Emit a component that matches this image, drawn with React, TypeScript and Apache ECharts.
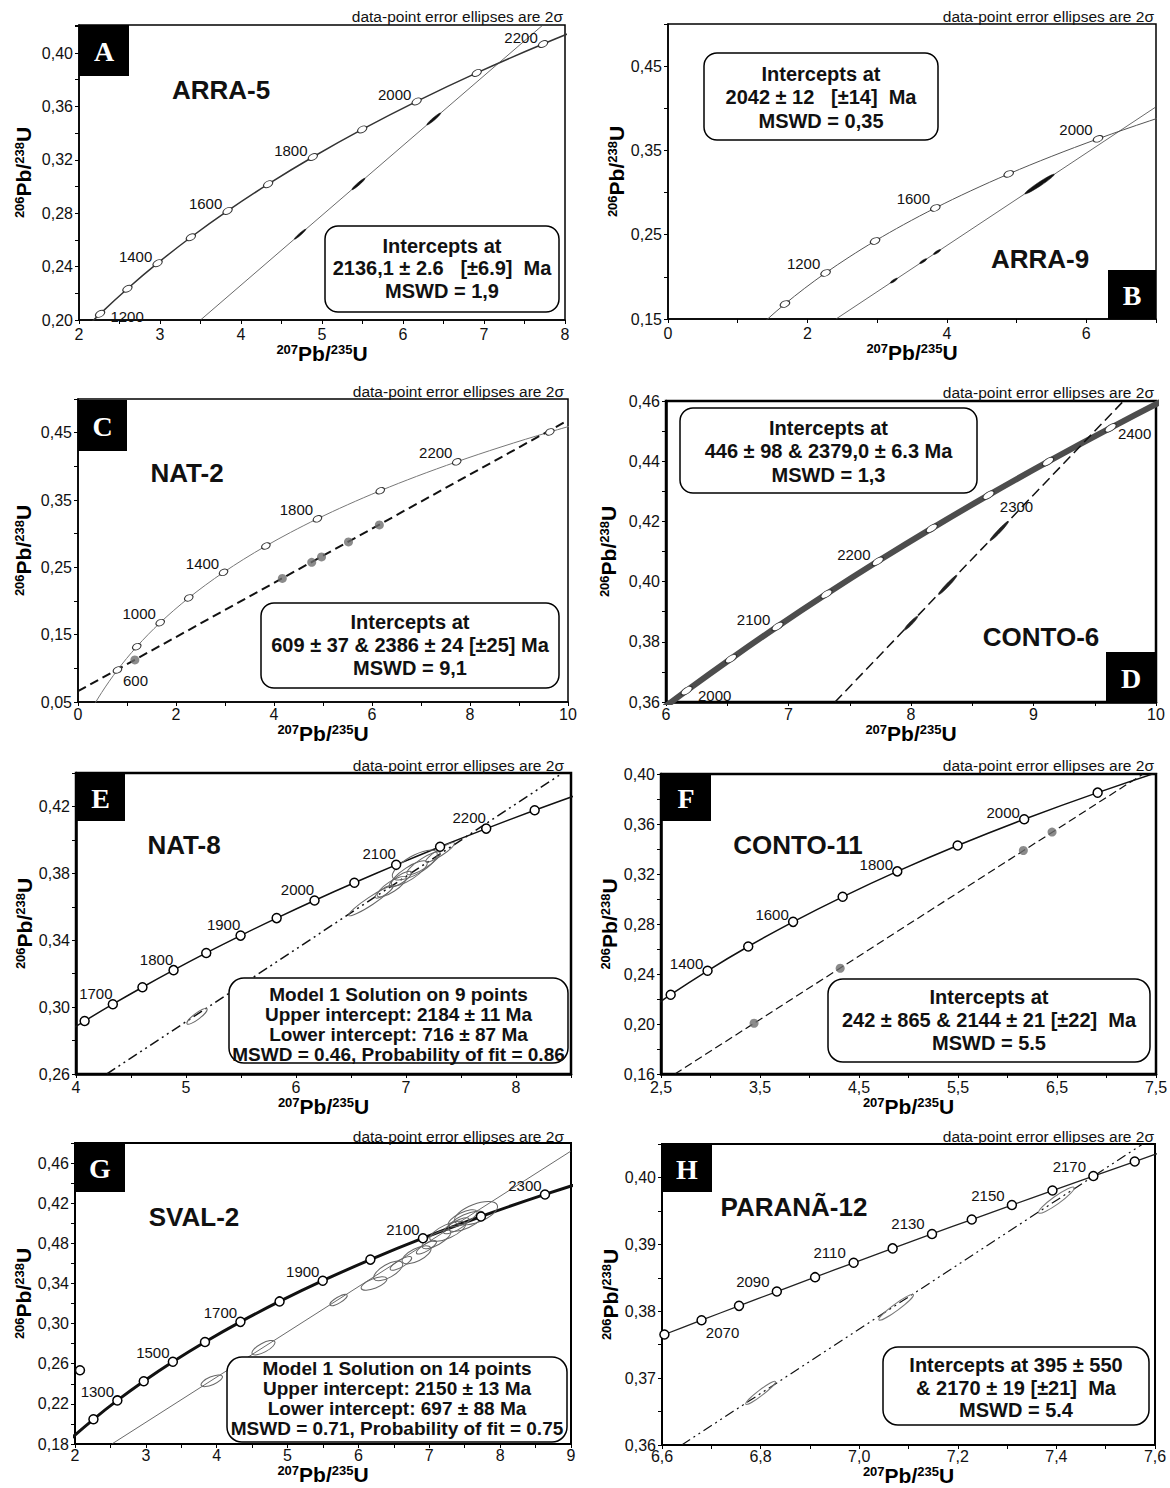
import React, { useEffect, useRef } from 'react';
import * as echarts from 'echarts';

// ---------- concordia reference points (age Ma, 207Pb/235U, 206Pb/238U) ----------
const concAge100 = [0, 100, 200, 300, 400, 500, 600, 700, 800, 900, 1000, 1100, 1200, 1300, 1400, 1500, 1600, 1700, 1800, 1900, 2000, 2100, 2200, 2300, 2400, 2500];
const concX100 = [0, 0.1035, 0.2177, 0.3437, 0.4828, 0.6363, 0.8056, 0.9925, 1.1987, 1.4263, 1.6774, 1.9545, 2.2603, 2.5977, 2.9701, 3.3810, 3.8344, 4.3348, 4.8869, 5.4962, 6.1685, 6.9105, 7.7291, 8.6326, 9.6295, 10.7297];
const concY100 = [0, 0.01563, 0.03151, 0.04764, 0.06402, 0.08065, 0.09754, 0.11470, 0.13213, 0.14983, 0.16780, 0.18606, 0.20460, 0.22344, 0.24256, 0.26199, 0.28172, 0.30175, 0.32210, 0.34277, 0.36377, 0.38509, 0.40674, 0.42873, 0.45107, 0.47375];
const concAge50 = [1650, 1750, 1850, 1950, 2050, 2150, 2250, 2350, 2450];
const concX50 = [4.0784, 4.6040, 5.1840, 5.8241, 6.5304, 7.3097, 8.1697, 9.1188, 10.1660];
const concY50 = [0.29170, 0.31189, 0.33240, 0.35323, 0.37438, 0.39587, 0.41769, 0.43986, 0.46237];
const concAge10 = [2050, 2060, 2070, 2080, 2090, 2100, 2110, 2120, 2130, 2140, 2150, 2160, 2170, 2180, 2190, 2200];
const concX10 = [6.5304, 6.6049, 6.6802, 6.7562, 6.8329, 6.9105, 6.9887, 7.0678, 7.1477, 7.2283, 7.3097, 7.3920, 7.4750, 7.5589, 7.6436, 7.7292];
const concY10 = [0.37438, 0.37652, 0.37866, 0.38080, 0.38294, 0.38509, 0.38724, 0.38939, 0.39155, 0.39371, 0.39587, 0.39804, 0.40021, 0.40238, 0.40456, 0.40674];

// ---------- A : ARRA-5 ----------
const aMarkerAges = [1200, 1300, 1400, 1500, 1600, 1700, 1800, 1900, 2000, 2100, 2200];
const aLabelAges = [1200, 1400, 1600, 1800, 2000, 2200];
const aDiscordia = [[3.5, 0.2], [7.75, 0.4222]];
const aEllipses = [[4.73, 0.2643, 0.07, 0.0037, 0.14], [5.45, 0.3019, 0.08, 0.0042, 0.14], [6.38, 0.3506, 0.085, 0.0044, 0.14]];
const aXTicks = [2, 3, 4, 5, 6, 7, 8];
const aXLabels = ['2', '3', '4', '5', '6', '7', '8'];
const aYTicks = [0.2, 0.24, 0.28, 0.32, 0.36, 0.4];
const aYLabels = ['0,20', '0,24', '0,28', '0,32', '0,36', '0,40'];
const aBoxText = ['Intercepts at', '2136,1 ± 2.6 \u00a0 [±6.9] \u00a0Ma', 'MSWD = 1,9'];

// ---------- B : ARRA-9 ----------
const bMarkerAges = [1000, 1200, 1400, 1600, 1800, 2000];
const bLabelAges = [1200, 1600, 2000];
const bDiscordia = [[2.41, 0.15], [7.0, 0.4017]];
const bEllipses = [[5.33, 0.3101, 0.21, 0.0115, 0.11], [3.86, 0.2295, 0.05, 0.0027, 0.25], [3.66, 0.2186, 0.05, 0.0027, 0.25], [3.24, 0.1955, 0.05, 0.0027, 0.25]];
const bXTicks = [0, 2, 4, 6];
const bXLabels = ['0', '2', '4', '6'];
const bYTicks = [0.15, 0.25, 0.35, 0.45];
const bYLabels = ['0,15', '0,25', '0,35', '0,45'];
const bBoxText = ['Intercepts at', '2042 ± 12 \u00a0 [±14] \u00a0Ma', 'MSWD = 0,35'];

// ---------- C : NAT-2 ----------
const cMarkerAges = [600, 800, 1000, 1200, 1400, 1600, 1800, 2000, 2200, 2400];
const cLabelAges = [600, 1000, 1400, 1800, 2200];
const cDiscordia = [[0, 0.066], [10, 0.4684]];
const cGrayPoints = [[1.16, 0.1125], [4.17, 0.2335], [4.77, 0.2575], [4.97, 0.2655], [5.52, 0.2877], [6.15, 0.313]];
const cXTicks = [0, 2, 4, 6, 8, 10];
const cXLabels = ['0', '2', '4', '6', '8', '10'];
const cYTicks = [0.05, 0.15, 0.25, 0.35, 0.45];
const cYLabels = ['0,05', '0,15', '0,25', '0,35', '0,45'];
const cBoxText = ['Intercepts at', '609 ± 37 & 2386 ± 24 [±25] Ma', 'MSWD = 9,1'];

// ---------- D : CONTO-6 ----------
const dMarkerAges = [2000, 2050, 2100, 2150, 2200, 2250, 2300, 2350, 2400];
const dLabelAges = [2000, 2100, 2200, 2300, 2400];
const dDiscordia = [[7.38, 0.36], [9.735, 0.46]];
const dEllipses = [[8.0, 0.3862, 0.055, 0.0023, 0.16], [8.3, 0.3989, 0.075, 0.0032, 0.12], [8.72, 0.4168, 0.075, 0.0032, 0.12]];
const dXTicks = [6, 7, 8, 9, 10];
const dXLabels = ['6', '7', '8', '9', '10'];
const dYTicks = [0.36, 0.38, 0.4, 0.42, 0.44, 0.46];
const dYLabels = ['0,36', '0,38', '0,40', '0,42', '0,44', '0,46'];
const dBoxText = ['Intercepts at', '446 ± 98 & 2379,0 ± 6.3 Ma', 'MSWD = 1,3'];

// ---------- E : NAT-8 ----------
const eMarkerAges = [1650, 1700, 1750, 1800, 1850, 1900, 1950, 2000, 2050, 2100, 2150, 2200, 2250];
const eLabelAges = [1700, 1800, 1900, 2000, 2100, 2200];
const eDiscordia = [[4.28, 0.26], [8.42, 0.4398]];
const eEllipses = [
  [5.1, 0.2945, 0.09, 0.0045, 0.25], [6.68, 0.3635, 0.2, 0.0087, 0.15], [6.8, 0.369, 0.08, 0.0035, 0.3],
  [6.87, 0.372, 0.13, 0.0056, 0.3], [6.95, 0.3765, 0.1, 0.0043, 0.3], [7.03, 0.38, 0.16, 0.0068, 0.3],
  [7.08, 0.385, 0.2, 0.0076, 0.36], [7.16, 0.386, 0.15, 0.0064, 0.25], [7.31, 0.3925, 0.13, 0.0056, 0.2],
];
const eXTicks = [4, 5, 6, 7, 8];
const eXLabels = ['4', '5', '6', '7', '8'];
const eYTicks = [0.26, 0.3, 0.34, 0.38, 0.42];
const eYLabels = ['0,26', '0,30', '0,34', '0,38', '0,42'];
const eBoxText = ['Model 1 Solution on 9 points', 'Upper intercept: 2184 ± 11 Ma', 'Lower intercept: 716 ± 87 Ma', 'MSWD = 0.46, Probability of fit = 0.86'];

// ---------- F : CONTO-11 ----------
const fMarkerAges = [1300, 1400, 1500, 1600, 1700, 1800, 1900, 2000, 2100];
const fLabelAges = [1400, 1600, 1800, 2000];
const fDiscordia = [[2.64, 0.16], [7.37, 0.4]];
const fGrayPoints = [[3.44, 0.2006], [4.31, 0.2446], [6.16, 0.3388], [6.45, 0.3535]];
const fXTicks = [2.5, 3.5, 4.5, 5.5, 6.5, 7.5];
const fXLabels = ['2,5', '3,5', '4,5', '5,5', '6,5', '7,5'];
const fYTicks = [0.16, 0.2, 0.24, 0.28, 0.32, 0.36, 0.4];
const fYLabels = ['0,16', '0,20', '0,24', '0,28', '0,32', '0,36', '0,40'];
const fBoxText = ['Intercepts at', '242 ± 865 & 2144 ± 21 [±22] \u00a0Ma', 'MSWD = 5.5'];

// ---------- G : SVAL-2 ----------
const gMarkerAges = [1200, 1300, 1400, 1500, 1600, 1700, 1800, 1900, 2000, 2100, 2200, 2300];
const gLabelAges = [1300, 1500, 1700, 1900, 2100, 2300];
const gExtraPoints = [[2.07, 0.2535]];
const gDiscordia = [[2.52, 0.18], [9.0, 0.472]];
const gEllipses = [
  [3.93, 0.243, 0.15, 0.0045, 0.35], [4.66, 0.276, 0.16, 0.006, 0.35], [5.72, 0.3235, 0.12, 0.005, 0.3],
  [6.22, 0.34, 0.18, 0.005, 0.35], [6.42, 0.3525, 0.2, 0.008, 0.4], [6.6, 0.36, 0.15, 0.006, 0.3],
  [6.82, 0.3685, 0.2, 0.007, 0.4], [6.96, 0.376, 0.14, 0.006, 0.3], [7.1, 0.384, 0.2, 0.008, 0.35],
  [7.26, 0.392, 0.25, 0.008, 0.35], [7.38, 0.3975, 0.18, 0.007, 0.3], [7.47, 0.405, 0.2, 0.007, 0.35],
  [7.52, 0.402, 0.25, 0.008, 0.35], [7.66, 0.41, 0.3, 0.008, 0.4],
];
const gXTicks = [2, 3, 4, 5, 6, 7, 8, 9];
const gXLabels = ['2', '3', '4', '5', '6', '7', '8', '9'];
const gYTicks = [0.18, 0.22, 0.26, 0.3, 0.34, 0.38, 0.42, 0.46];
const gYLabels = ['0,18', '0,22', '0,26', '0,30', '0,34', '0,48', '0,42', '0,46'];
const gBoxText = ['Model 1 Solution on 14 points', 'Upper intercept: 2150 ± 13 Ma', 'Lower intercept: 697 ± 88 Ma', 'MSWD = 0.71, Probability of fit = 0.75'];

// ---------- H : PARANÃ-12 ----------
const hMarkerAges = [2060, 2070, 2080, 2090, 2100, 2110, 2120, 2130, 2140, 2150, 2160, 2170, 2180];
const hLabelAges = [2070, 2090, 2110, 2130, 2150, 2170];
const hDiscordia = [[6.64, 0.36], [7.6, 0.4062]];
const hEllipses = [[6.8, 0.3678, 0.03, 0.0017, 0.15], [7.075, 0.3806, 0.035, 0.0019, 0.15], [7.4, 0.3966, 0.036, 0.0019, 0.18]];
const hXTicks = [6.6, 6.8, 7.0, 7.2, 7.4, 7.6];
const hXLabels = ['6,6', '6,8', '7,0', '7,2', '7,4', '7,6'];
const hYTicks = [0.36, 0.37, 0.38, 0.39, 0.4];
const hYLabels = ['0,36', '0,37', '0,38', '0,39', '0,40'];
const hBoxText = ['Intercepts at 395 ± 550', '& 2170 ± 19 [±21] \u00a0Ma', 'MSWD = 5.4'];

// ---------- helpers ----------
const SANS = '"Liberation Sans", Arial, Helvetica, sans-serif';
const SERIF = '"Liberation Serif", "Times New Roman", serif';
const OVAL = 'path://M10,0C15.52,0 20,4.48 20,10C20,15.52 15.52,20 10,20C4.48,20 0,15.52 0,10C0,4.48 4.48,0 10,0Z';

type CP = { age: number; x: number; y: number };
function table(ages: number[], xs: number[], ys: number[]): CP[] {
  return ages.map((a, i) => ({ age: a, x: xs[i], y: ys[i] }));
}
function merge(...lists: CP[][]): CP[] {
  const all = ([] as CP[]).concat(...lists).sort((p, q) => p.age - q.age);
  return all.filter((p, i) => i === 0 || p.age !== all[i - 1].age);
}
const conc100 = table(concAge100, concX100, concY100);
const conc50 = merge(conc100, table(concAge50, concX50, concY50));
const conc10 = table(concAge10, concX10, concY10);

function labeler(ticks: number[], labels: string[]) {
  return (v: number) => {
    const i = ticks.findIndex((t) => Math.abs(t - v) < 1e-7);
    return i >= 0 ? labels[i] : '';
  };
}

const panels: any[] = [
  {
    grid: { left: 79, top: 25, width: 486, height: 295 }, border: 1.5,
    x: { min: 2, max: 8, interval: 0.5, ticks: aXTicks, labels: aXLabels, gap: 20, margin: 6 },
    y: { min: 0.2, max: 0.421, interval: 0.02, ticks: aYTicks, labels: aYLabels, gap: 46, margin: 6 },
    conc: conc100, markerAges: aMarkerAges, labelAges: aLabelAges, off: [-22, -7], over: { 1200: [27, 3] },
    disc: aDiscordia, ell: aEllipses, gray: [], extra: [],
    concStyle: { color: '#333', width: 1.5 }, discStyle: { color: '#444', width: 0.8, type: 'solid' },
    marker: { symbol: OVAL, size: [10, 6], rotate: 28 }, ellStyle: { fill: '#111', stroke: '#111', lineWidth: 0.5 },
    sample: 'ARRA-5', samplePos: [221, 90], letter: 'A', letterBox: [79, 25, 50, 51], note: [563, 16],
    box: [325, 226, 234, 86, 13], boxText: aBoxText, boxFont: 20, boxLH: 22.5, boxC: [442, 268],
  },
  {
    grid: { left: 668, top: 24, width: 488, height: 295 }, border: 1.5,
    x: { min: 0, max: 7, interval: 1, ticks: bXTicks, labels: bXLabels, gap: 20, margin: 6 },
    y: { min: 0.15, max: 0.5, interval: 0.05, ticks: bYTicks, labels: bYLabels, gap: 42, margin: 6 },
    conc: conc100, markerAges: bMarkerAges, labelAges: bLabelAges, off: [-22, -9], over: {},
    disc: bDiscordia, ell: bEllipses, gray: [], extra: [],
    concStyle: { color: '#555', width: 1 }, discStyle: { color: '#444', width: 0.8, type: 'solid' },
    marker: { symbol: OVAL, size: [10, 6], rotate: 22 }, ellStyle: { fill: '#111', stroke: '#111', lineWidth: 0.5 },
    sample: 'ARRA-9', samplePos: [1040, 259], letter: 'B', letterBox: [1108, 270, 48, 49], note: [1154, 16],
    box: [704, 53, 234, 87, 13], boxText: bBoxText, boxFont: 20, boxLH: 23.5, boxC: [821, 97],
  },
  {
    grid: { left: 78, top: 399, width: 490, height: 303 }, border: 1.5,
    x: { min: 0, max: 10, interval: 1, ticks: cXTicks, labels: cXLabels, gap: 4, margin: 4 },
    y: { min: 0.05, max: 0.5, interval: 0.05, ticks: cYTicks, labels: cYLabels, gap: 45, margin: 6 },
    conc: conc100, markerAges: cMarkerAges, labelAges: cLabelAges, off: [-21, -9], over: { 600: [18, 11] },
    disc: cDiscordia, ell: [], gray: cGrayPoints, extra: [],
    concStyle: { color: '#777', width: 1 }, discStyle: { color: '#111', width: 2, type: [9, 5] },
    marker: { symbol: OVAL, size: [9, 6], rotate: 25 }, ellStyle: {},
    sample: 'NAT-2', samplePos: [187, 473], letter: 'C', letterBox: [78, 400, 49, 51], note: [564, 391],
    box: [261, 603, 298, 85, 13], boxText: cBoxText, boxFont: 20, boxLH: 23, boxC: [410, 645],
  },
  {
    grid: { left: 666, top: 401, width: 490, height: 301 }, border: 2.5,
    x: { min: 6, max: 10, interval: 0.5, ticks: dXTicks, labels: dXLabels, gap: 4, margin: 4 },
    y: { min: 0.36, max: 0.46, interval: 0.01, ticks: dYTicks, labels: dYLabels, gap: 48, margin: 6 },
    conc: conc50, markerAges: dMarkerAges, labelAges: dLabelAges, off: [-24, -7], over: { 2000: [28, 5], 2300: [28, 11], 2400: [24, 6] },
    disc: dDiscordia, ell: dEllipses, gray: [], extra: [],
    concStyle: { color: '#4d4d4d', width: 6 }, discStyle: { color: '#111', width: 1.5, type: [10, 5] },
    marker: { symbol: OVAL, size: [13, 6], rotate: 33 }, ellStyle: { fill: '#222', stroke: '#222', lineWidth: 0.5 },
    sample: 'CONTO-6', samplePos: [1041, 637], letter: 'D', letterBox: [1106, 652, 50, 50], note: [1154, 392],
    box: [680, 408, 297, 85, 13], boxText: dBoxText, boxFont: 20, boxLH: 23.5, boxC: [828.5, 451],
  },
  {
    grid: { left: 76, top: 773, width: 495, height: 301 }, border: 2.5,
    x: { min: 4, max: 8.5, interval: 0.5, ticks: eXTicks, labels: eXLabels, gap: 6, margin: 5 },
    y: { min: 0.26, max: 0.44, interval: 0.02, ticks: eYTicks, labels: eYLabels, gap: 41, margin: 6 },
    conc: conc50, markerAges: eMarkerAges, labelAges: eLabelAges, off: [-17, -11], over: {},
    disc: eDiscordia, ell: eEllipses, gray: [], extra: [],
    concStyle: { color: '#111', width: 1.5 }, discStyle: { color: '#111', width: 1.5, type: [10, 4, 2, 4, 2, 4] },
    marker: { symbol: 'circle', size: 9, rotate: 0 }, ellStyle: { fill: 'none', stroke: '#666', lineWidth: 1 },
    sample: 'NAT-8', samplePos: [184, 845], letter: 'E', letterBox: [76, 773, 49, 48], note: [564, 765],
    box: [229, 978, 339, 85, 15], boxText: eBoxText, boxFont: 19, boxLH: 19.7, boxC: [398.5, 1024.5],
  },
  {
    grid: { left: 661, top: 774, width: 495, height: 300 }, border: 2.5,
    x: { min: 2.5, max: 7.5, interval: 0.5, ticks: fXTicks, labels: fXLabels, gap: 6, margin: 5 },
    y: { min: 0.16, max: 0.4, interval: 0.02, ticks: fYTicks, labels: fYLabels, gap: 42, margin: 6 },
    conc: conc100, markerAges: fMarkerAges, labelAges: fLabelAges, off: [-21, -7], over: {},
    disc: fDiscordia, ell: [], gray: fGrayPoints, extra: [],
    concStyle: { color: '#111', width: 1.5 }, discStyle: { color: '#111', width: 1.2, type: [8, 4] },
    marker: { symbol: 'circle', size: 9, rotate: 0 }, ellStyle: {},
    sample: 'CONTO-11', samplePos: [798, 845], letter: 'F', letterBox: [661, 774, 50, 47], note: [1154, 765],
    box: [828, 979, 322, 83, 15], boxText: fBoxText, boxFont: 20, boxLH: 23, boxC: [989, 1020],
  },
  {
    grid: { left: 75, top: 1143, width: 496, height: 301 }, border: 2,
    x: { min: 2, max: 9, interval: 0.5, ticks: gXTicks, labels: gXLabels, gap: 3, margin: 3 },
    y: { min: 0.18, max: 0.48, interval: 0.02, ticks: gYTicks, labels: gYLabels, gap: 40, margin: 6 },
    conc: conc100, markerAges: gMarkerAges, labelAges: gLabelAges, off: [-20, -9], over: {},
    disc: gDiscordia, ell: gEllipses, gray: [], extra: gExtraPoints,
    concStyle: { color: '#111', width: 3 }, discStyle: { color: '#444', width: 0.8, type: 'solid' },
    marker: { symbol: 'circle', size: 9, rotate: 0 }, ellStyle: { fill: 'none', stroke: '#666', lineWidth: 1 },
    sample: 'SVAL-2', samplePos: [194, 1217], letter: 'G', letterBox: [75, 1143, 50, 49], note: [564, 1136],
    box: [227, 1357, 340, 85, 15], boxText: gBoxText, boxFont: 19, boxLH: 20.3, boxC: [397, 1398.5],
  },
  {
    grid: { left: 662, top: 1144, width: 493, height: 301 }, border: 2,
    x: { min: 6.6, max: 7.6, interval: 0.1, ticks: hXTicks, labels: hXLabels, gap: 3, margin: 3 },
    y: { min: 0.36, max: 0.405, interval: 0.005, ticks: hYTicks, labels: hYLabels, gap: 42, margin: 6 },
    conc: conc10, markerAges: hMarkerAges, labelAges: hLabelAges, off: [-24, -10], over: { 2070: [21, 12] },
    disc: hDiscordia, ell: hEllipses, gray: [], extra: [],
    concStyle: { color: '#222', width: 1.3 }, discStyle: { color: '#111', width: 1.2, type: [10, 4, 2, 4, 2, 4] },
    marker: { symbol: 'circle', size: 9, rotate: 0 }, ellStyle: { fill: 'none', stroke: '#777', lineWidth: 1 },
    sample: 'PARANÃ-12', samplePos: [794, 1207], letter: 'H', letterBox: [662, 1144, 50, 48], note: [1154, 1136],
    box: [883, 1347, 266, 78, 15], boxText: hBoxText, boxFont: 20, boxLH: 22.5, boxC: [1016, 1387.5],
  },
];

const nameRich = {
  s: { fontSize: 13, fontWeight: 'bold', fontFamily: SANS, color: '#000', verticalAlign: 'top', lineHeight: 20 },
  b: { fontSize: 21, fontWeight: 'bold', fontFamily: SANS, color: '#000', lineHeight: 20 },
};

function buildOption() {
  const grids: any[] = [];
  const xAxes: any[] = [];
  const yAxes: any[] = [];
  const series: any[] = [];
  const graphics: any[] = [];

  panels.forEach((p, i) => {
    grids.push({ ...p.grid, show: true, borderColor: '#000', borderWidth: p.border, backgroundColor: 'transparent', containLabel: false, outerBoundsMode: 'none' });
    const axisCommon = (ax: any, isX: boolean) => ({
      gridIndex: i, type: 'value', min: ax.min, max: ax.max, interval: ax.interval,
      axisLine: { show: true, onZero: false, lineStyle: { color: '#000', width: p.border } },
      axisTick: { show: true, inside: false, length: 4, lineStyle: { color: '#000', width: 1 } },
      minorTick: { show: false }, splitLine: { show: false },
      axisLabel: { formatter: labeler(ax.ticks, ax.labels), fontSize: 16, color: '#111', fontFamily: SANS, margin: ax.margin, showMinLabel: true, showMaxLabel: true },
      nameLocation: 'middle', nameGap: ax.gap,
      name: isX ? '{s|207}{b|Pb/}{s|235}{b|U}' : '{s|206}{b|Pb/}{s|238}{b|U}',
      nameRotate: isX ? 0 : 90,
      nameTextStyle: { rich: nameRich },
    });
    xAxes.push(axisCommon(p.x, true));
    yAxes.push(axisCommon(p.y, false));

    // concordia curve
    series.push({
      type: 'line', xAxisIndex: i, yAxisIndex: i, data: p.conc.map((c: CP) => [c.x, c.y]),
      symbol: 'none', smooth: 0.35, clip: true, silent: true, z: 2,
      lineStyle: { color: p.concStyle.color, width: p.concStyle.width },
    });
    // discordia
    series.push({
      type: 'line', xAxisIndex: i, yAxisIndex: i, data: p.disc, symbol: 'none', clip: true, silent: true, z: 3,
      lineStyle: { color: p.discStyle.color, width: p.discStyle.width, type: p.discStyle.type },
    });
    // error ellipses
    if (p.ell.length) {
      const st = p.ellStyle;
      series.push({
        type: 'custom', xAxisIndex: i, yAxisIndex: i, clip: true, silent: true, z: 4,
        data: p.ell, encode: { x: 0, y: 1 },
        renderItem: (params: any, api: any) => {
          const x = api.value(0), y = api.value(1), dx = api.value(2), dy = api.value(3), r = api.value(4);
          const p1 = api.coord([x - dx, y - dy]);
          const p2 = api.coord([x + dx, y + dy]);
          const cx = (p1[0] + p2[0]) / 2, cy = (p1[1] + p2[1]) / 2;
          const a = Math.hypot(p2[0] - p1[0], p2[1] - p1[1]) / 2;
          const ang = Math.atan2(p2[1] - p1[1], p2[0] - p1[0]);
          return {
            type: 'ellipse', x: cx, y: cy, rotation: -ang,
            shape: { cx: 0, cy: 0, rx: a, ry: Math.max(1, a * r) },
            style: { fill: st.fill, stroke: st.stroke, lineWidth: st.lineWidth },
          };
        },
      });
    }
    // gray data points
    if (p.gray.length) {
      series.push({
        type: 'scatter', xAxisIndex: i, yAxisIndex: i, data: p.gray, symbol: 'circle', symbolSize: 9,
        silent: true, z: 5, itemStyle: { color: '#6e6e6e' },
      });
    }
    // concordia age markers + labels
    const markerData = p.markerAges.map((age: number) => {
      const c = p.conc.find((q: CP) => q.age === age);
      const show = p.labelAges.includes(age);
      return {
        value: [c.x, c.y, age],
        label: show ? { show: true, formatter: String(age), offset: p.over[age] || p.off } : { show: false },
      };
    });
    p.extra.forEach((e: number[]) => markerData.push({ value: [e[0], e[1], 0], label: { show: false } }));
    series.push({
      type: 'scatter', xAxisIndex: i, yAxisIndex: i, data: markerData, silent: true, z: 6, clip: true,
      symbol: p.marker.symbol, symbolSize: p.marker.size, symbolRotate: p.marker.rotate,
      itemStyle: { color: '#fff', borderColor: p.marker.symbol === 'circle' ? '#000' : '#333', borderWidth: p.marker.symbol === 'circle' ? 1.5 : 1, opacity: 1 },
      label: { position: 'inside', fontSize: 15, color: '#111', fontFamily: SANS },
    });

    // note text
    graphics.push({
      type: 'text', x: p.note[0], y: p.note[1], z: 30,
      style: { text: 'data-point error ellipses are 2σ', fontSize: 15.5, fontFamily: SANS, fill: '#111', align: 'right', verticalAlign: 'middle' },
    });
    // sample name
    graphics.push({
      type: 'text', x: p.samplePos[0], y: p.samplePos[1], z: 30,
      style: { text: p.sample, fontSize: 26, fontWeight: 'bold', fontFamily: SANS, fill: '#111', align: 'center', verticalAlign: 'middle' },
    });
    // letter box
    const lb = p.letterBox;
    graphics.push({ type: 'rect', z: 30, shape: { x: lb[0], y: lb[1], width: lb[2], height: lb[3] }, style: { fill: '#000' } });
    graphics.push({
      type: 'text', z: 31, x: lb[0] + lb[2] / 2, y: lb[1] + lb[3] / 2 + 1,
      style: { text: p.letter, fontSize: 28, fontWeight: 'bold', fontFamily: SERIF, fill: '#fff', align: 'center', verticalAlign: 'middle' },
    });
    // intercept box
    const b = p.box;
    graphics.push({ type: 'rect', z: 30, shape: { x: b[0], y: b[1], width: b[2], height: b[3], r: b[4] }, style: { fill: '#fff', stroke: '#000', lineWidth: 1.5 } });
    graphics.push({
      type: 'text', z: 31, x: p.boxC[0], y: p.boxC[1],
      style: { text: p.boxText.join('\n'), fontSize: p.boxFont, fontWeight: 'bold', fontFamily: SANS, fill: '#111', align: 'center', verticalAlign: 'middle', lineHeight: p.boxLH },
    });
  });

  return {
    animation: false,
    backgroundColor: '#fff',
    grid: grids,
    xAxis: xAxes,
    yAxis: yAxes,
    series,
    graphic: graphics,
  };
}

export default function App() {
  const ref = useRef<HTMLDivElement>(null);
  useEffect(() => {
    if (!ref.current) return;
    const chart = echarts.init(ref.current, undefined, { renderer: 'svg' });
    chart.setOption(buildOption() as any);
    return () => chart.dispose();
  }, []);
  return (
    <div
      ref={ref}
      style={{ position: 'absolute', left: 0, top: 0, width: 1170, height: 1488, background: '#fff' }}
    />
  );
}
